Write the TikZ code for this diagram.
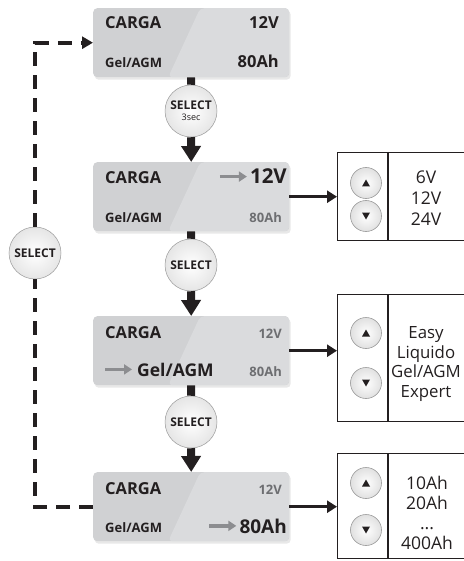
\documentclass[tikz,border=0pt]{standalone}
\usepackage{fontspec}
\setmainfont{Open Sans}
\usetikzlibrary{arrows.meta,calc,shadows}
\definecolor{ink}{HTML}{231F20}
\definecolor{dim}{HTML}{6D6E71}
\definecolor{garrow}{HTML}{8C8D90}
\definecolor{boxdark}{HTML}{D0D1D3}
\definecolor{boxlight}{HTML}{DADBDD}
\definecolor{btnedge}{HTML}{9A9A9A}
\begin{document}
\begin{tikzpicture}[x=1pt,y=-1pt,
  lcd/.style={draw=none, fill=boxdark, rounded corners=4pt, minimum width=196pt, minimum height=69pt,
    anchor=north west, inner sep=0pt,
    drop shadow={opacity=0.18, shadow xshift=1.5pt, shadow yshift=-2.5pt},
    path picture={\fill[boxlight] ($(path picture bounding box.north)+(9pt,0pt)$) -- (path picture bounding box.north east)
      -- (path picture bounding box.south east) -- ($(path picture bounding box.south)+(-23pt,0pt)$) -- cycle;}},
  selbtn/.style={circle, minimum size=52pt, inner sep=0pt, draw=btnedge, line width=0.5pt,
    inner color=white, outer color=black!10, font=\bfseries\fontsize{12}{12}\selectfont, text=ink, align=center},
  arrowbtn/.style={circle, minimum size=31pt, inner sep=0pt, draw=btnedge, line width=0.6pt,
    inner color=white, outer color=black!12},
  upbtn/.style={arrowbtn, path picture={\fill[ink] ([yshift=3.5pt]path picture bounding box.center) -- ++(4pt,-7pt) -- ++(-8pt,0pt) -- cycle;}},
  downbtn/.style={arrowbtn, path picture={\fill[ink] ([yshift=-3.5pt]path picture bounding box.center) -- ++(4pt,7pt) -- ++(-8pt,0pt) -- cycle;}},
  big/.style={font=\bfseries\fontsize{16.5}{16.5}\selectfont, text=ink, inner sep=0pt},
  hot/.style={font=\bfseries\fontsize{20.5}{20.5}\selectfont, text=ink, inner sep=0pt},
  small/.style={font=\bfseries\fontsize{13}{13}\selectfont, text=ink, inner sep=0pt},
  faint/.style={small, text=dim},
  grayarr/.style={draw=garrow, line width=3.5pt, -{Triangle[width=10pt,length=8pt]}},
  stem/.style={draw=ink, line width=8pt},
  stemarrow/.style={stem, -{Triangle[width=19pt,length=16pt]}},
  conn/.style={draw=ink, line width=3.5pt, -{Triangle[width=12pt,length=10pt]}},
  listbox/.style={draw=ink, line width=1.2pt, anchor=north west, minimum width=150pt, inner sep=0pt},
  listtext/.style={text=ink, align=center, inner sep=0pt},
  dashline/.style={draw=ink, line width=4pt, dash pattern=on 14pt off 9pt}
]
\useasboundingbox (0,0) rectangle (463,561);

% LCD boxes
\node[lcd] (b1) at (93,8) {};
\node[lcd] (b2) at (93,162) {};
\node[lcd] (b3) at (93,316) {};
\node[lcd] (b4) at (93,472) {};

% box 1
\node[big, anchor=base west] (b1a) at (105,29) {CARGA};
\node[big, anchor=base east] (b1b) at (279,29) {12V};
\node[small, anchor=base west] (b1c) at (105,68) {Gel/AGM};
\node[big, anchor=base east] (b1d) at (279,68) {80Ah};

% box 2
\node[big, anchor=base west] (b2a) at (105,183) {CARGA};
\node[hot, anchor=base east] (b2b) at (287,184) {12V};
\node[small, anchor=base west] (b2c) at (105,222) {Gel/AGM};
\node[faint, anchor=base east] (b2d) at (282,222) {80Ah};
\draw[grayarr] ([xshift=-30pt]b2b.west) -- ([xshift=-3pt]b2b.west);

% box 3
\node[big, anchor=base west] (b3a) at (105,338) {CARGA};
\node[faint, anchor=base east] (b3b) at (282,338) {12V};
\node[hot, anchor=base west, font=\bfseries\fontsize{17.5}{17.5}\selectfont] (b3c) at (137,376) {Gel/AGM};
\node[faint, anchor=base east] (b3d) at (282,376) {80Ah};
\draw[grayarr] ([xshift=-32pt]b3c.west) -- ([xshift=-5pt]b3c.west);

% box 4
\node[big, anchor=base west] (b4a) at (105,494) {CARGA};
\node[faint, anchor=base east] (b4b) at (282,494) {12V};
\node[small, anchor=base west] (b4c) at (105,532) {Gel/AGM};
\node[hot, anchor=base east, font=\bfseries\fontsize{19}{19}\selectfont] (b4d) at (287,533) {80Ah};
\draw[grayarr] ([xshift=-30pt]b4d.west) -- ([xshift=-3pt]b4d.west);

% select buttons (main chain)
\node[selbtn] (s1) at (191,111) {SELECT\\[-1pt]{\mdseries\fontsize{9}{9}\selectfont 3sec}};
\node[selbtn] (s2) at (191,265) {SELECT};
\node[selbtn] (s3) at (191,422) {SELECT};

\draw[stem] (b1.south) -- (s1.north);
\draw[stemarrow] (s1.south) -- (b2.north);
\draw[stem] (b2.south) -- (s2.north);
\draw[stemarrow] (s2.south) -- (b3.north);
\draw[stem] (b3.south) -- (s3.north);
\draw[stemarrow] (s3.south) -- (b4.north);

% left loop
\node[selbtn] (s0) at (35,253) {SELECT};
\draw[dashline] (b4.west) -| (s0.south);
\draw[dashline, -{Triangle[width=12pt,length=11pt]}] (s0.north) |- (b1.west);

% list boxes
\node[listbox, minimum height=88pt] (l1) at (337,152) {};
\node[listbox, minimum height=127pt] (l2) at (337,294) {};
\node[listbox, minimum height=105pt] (l3) at (337,453) {};
\foreach \l in {l1,l2,l3}{
  \draw[draw=ink, line width=1.2pt] ([xshift=51pt]\l.north west) -- ([xshift=51pt]\l.south west);
}

\draw[conn] (b2.east) -- (b2.east -| l1.west);
\draw[conn] (b3.east) -- (b3.east -| l2.west);
\draw[conn] (b4.east) -- (b4.east -| l3.west);

% up/down buttons
\node[upbtn] (u1) at (366,183) {};
\node[downbtn] (d1) at (366,216) {};
\node[upbtn] (u2) at (366,333) {};
\node[downbtn] (d2) at (366,383) {};
\node[upbtn] (u3) at (366,483) {};
\node[downbtn] (d3) at (366,530) {};

% list texts
\node[listtext, font=\fontsize{17.5}{21}\selectfont] (t1) at (426,198) {6V\\12V\\24V};
\node[listtext, font=\fontsize{16.8}{19.5}\selectfont] (t2) at (426,364) {Easy\\Liquido\\Gel/AGM\\Expert};
\node[listtext, font=\fontsize{17.5}{20}\selectfont] (t3) at (427,513) {10Ah\\20Ah\\...\\400Ah};
\end{tikzpicture}
\end{document}
